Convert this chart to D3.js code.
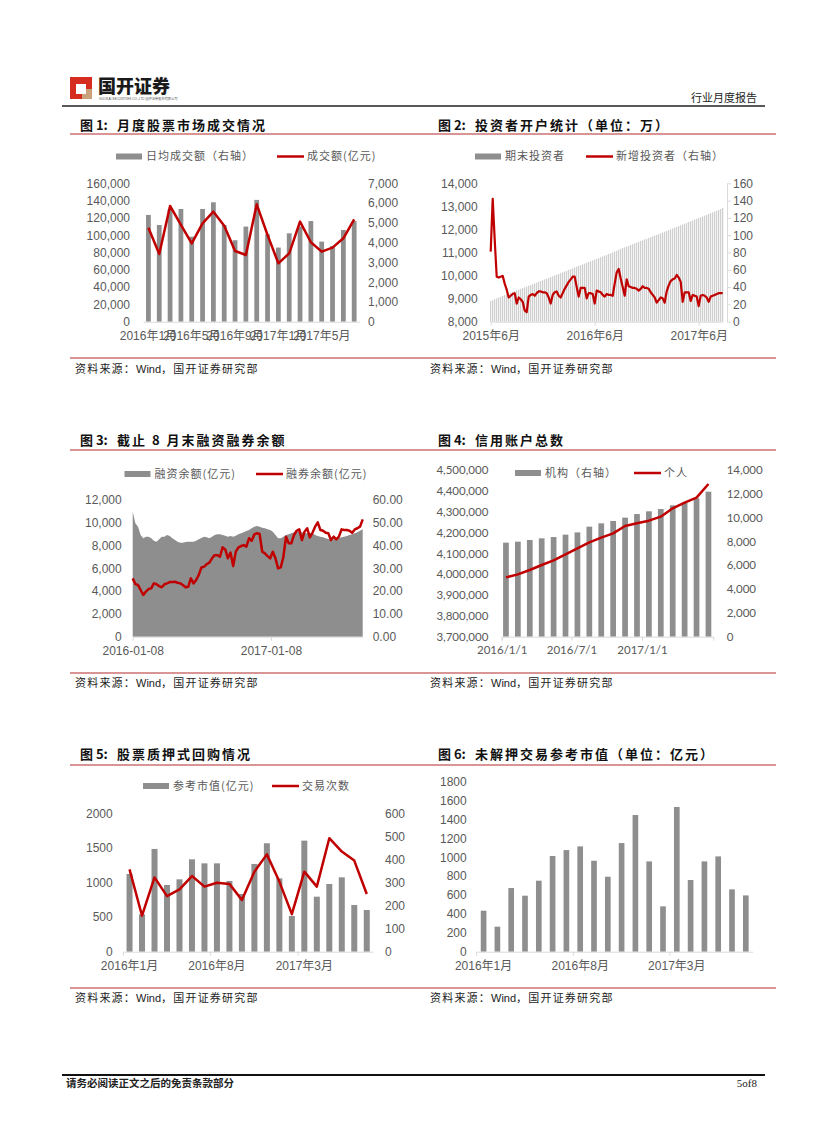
<!DOCTYPE html>
<html><head><meta charset="utf-8">
<script src="https://cdn.jsdelivr.net/npm/d3@7"></script>
<style>
body{margin:0;background:#fff;}
svg{display:block;}
</style></head><body>
<svg id="page" width="827" height="1122"></svg>
<script>
// ---------------- DATA ----------------
const months20 = ["2016年1月","2016年2月","2016年3月","2016年4月","2016年5月","2016年6月","2016年7月","2016年8月","2016年9月","2016年10月","2016年11月","2016年12月","2017年1月","2017年2月","2017年3月","2017年4月","2017年5月","2017年6月","2017年7月","2017年8月"];

// Chart 1
const c1DailyAvg = [5400,4890,5700,5700,4300,5700,6040,4890,4120,4810,6160,4420,3750,4470,4810,5090,4050,3830,4640,5090];
const c1Turnover = [108700,78300,133800,112000,90600,113700,127200,111000,81700,77100,135700,100200,67500,79000,115700,91800,81000,85600,96400,118400];
const c1XTicks = ["2016年1月","2016年5月","2016年9月","2017年1月","2017年5月"];
const c1LeftTicks = [0,20000,40000,60000,80000,100000,120000,140000,160000];
const c1RightTicks = [0,1000,2000,3000,4000,5000,6000,7000];

// Chart 2 (weekly)
const c2Start = "2015-06-05", c2End = "2017-08-26";
const c2Total = [8900,8935,8975,9010,9045,9080,9115,9150,9185,9220,
 9255,9290,9320,9355,9390,9425,9460,9490,9525,9560,
 9595,9630,9665,9700,9735,9765,9800,9835,9870,9900,
 9935,9970,10005,10040,10070,10105,10140,10175,10210,10245,
 10280,10315,10350,10385,10420,10450,10485,10520,10555,10590,
 10620,10655,10690,10725,10760,10795,10830,10865,10900,10935,
 10970,11005,11040,11080,11120,11160,11195,11225,11260,11290,
 11325,11360,11395,11430,11465,11495,11530,11565,11595,11630,
 11665,11700,11730,11760,11795,11830,11865,11900,11935,11970,
 12005,12040,12075,12110,12145,12180,12215,12250,12285,12320,
 12355,12390,12425,12460,12495,12530,12565,12600,12635,12670,
 12705,12740,12775,12810,12845,12885,12930];
const c2New = [81,142,95,52,51,52,53,44,37,28,
 30,32,33,21,28,26,23,13,11,29,
 31,32,30,33,35,35,34,34,33,28,
 21,31,34,35,30,28,33,38,42,46,
 49,52,52,40,29,39,39,39,27,33,
 33,32,21,36,35,34,31,29,32,31,
 31,30,44,57,61,50,40,30,49,41,
 40,39,39,38,36,38,41,39,39,38,
 34,31,28,22,25,28,27,22,35,42,
 47,49,50,54,51,46,23,34,34,34,
 24,31,30,29,18,30,31,30,28,23,
 29,30,31,32,33,33,33];
const c2XTicks = ["2015-06-05","2016-06-03","2017-06-02"];
const c2LeftTicks = [8000,9000,10000,11000,12000,13000,14000];
const c2RightTicks = [0,20,40,60,80,100,120,140,160];

// Chart 3 (weekly)
const c3Start = "2016-01-08", c3End = "2017-09-09";
const c3Margin = [10975,9950,9660,8930,8635,8780,8780,8635,8430,8340,
 8545,8780,8780,8930,8840,8635,8490,8340,8250,8250,
 8310,8340,8340,8340,8430,8545,8665,8780,8720,8635,
 8780,8930,8985,8985,8930,8870,8780,8840,8780,8870,
 8985,9075,9160,9280,9365,9510,9660,9720,9660,9570,
 9510,9425,9365,9220,8930,8635,8635,8780,8930,8985,
 9075,9160,9220,9250,9160,9075,9075,9135,9075,8930,
 8840,8780,8720,8635,8575,8545,8545,8575,8635,8720,
 8780,8840,8930,8985,9075,9160,9310,9425];
const c3Short = [25.6,23.1,22.7,20.5,18.3,19.8,20.9,21.2,23.4,23.0,
 22.2,21.7,23.0,23.4,24.0,24.0,24.1,23.7,23.4,22.7,
 21.7,21.9,25.6,23.4,24.9,27.1,30.4,30.7,31.9,32.5,
 34.4,35.8,35.8,35.1,39.2,38.3,34.4,36.9,31.0,37.3,
 39.2,39.8,40.2,39.5,43.2,42.1,44.9,45.4,45.1,37.3,
 36.6,35.4,34.4,37.3,34.4,30.0,30.4,35.1,43.9,41.0,
 41.0,44.6,46.5,47.1,42.4,46.1,47.6,43.6,45.6,48.3,
 50.2,46.8,46.5,45.6,45.4,42.4,43.9,42.7,43.9,47.1,
 46.8,46.8,46.5,45.6,47.1,47.6,48.3,51.5];
const c3XTicks = ["2016-01-08","2017-01-08"];
const c3LeftTicks = [0,2000,4000,6000,8000,10000,12000];
const c3RightTicks = [0,10,20,30,40,50,60];

// Chart 4 (monthly)
const c4Months = ["2016-01","2016-02","2016-03","2016-04","2016-05","2016-06","2016-07","2016-08","2016-09","2016-10","2016-11","2016-12","2017-01","2017-02","2017-03","2017-04","2017-05","2017-06"];
const c4Inst = [7900,7980,8120,8260,8370,8570,8760,9240,9520,9720,10000,10300,10530,10720,11030,11260,11620,12180];
const c4Indiv = [3984800,3999200,4020000,4044000,4066400,4095200,4124000,4152800,4175200,4196000,4231200,4244000,4256800,4276000,4316000,4343200,4367200,4432800];
const c4XTicks = ["2016-01-01","2016-07-01","2017-01-01"];
const c4LeftTicks = [3700000,3800000,3900000,4000000,4100000,4200000,4300000,4400000,4500000];
const c4RightTicks = [0,2000,4000,6000,8000,10000,12000,14000];

// Chart 5
const c5Value = [1123,540,1485,964,1046,1335,1277,1277,1022,834,1268,1567,1060,516,1605,795,978,1075,675,603];
const c5Count = [357,156,322,241,270,328,282,299,294,224,347,422,304,163,347,282,492,434,395,250];
const c5XTicks = ["2016年1月","2016年8月","2017年3月"];
const c5LeftTicks = [0,500,1000,1500,2000];
const c5RightTicks = [0,100,200,300,400,500,600];

// Chart 6
const c6Value = [434,265,674,593,752,1013,1076,1115,963,794,1150,1447,956,480,1532,759,956,1009,660,596];
const c6XTicks = ["2016年1月","2016年8月","2017年3月"];
const c6LeftTicks = [0,200,400,600,800,1000,1200,1400,1600,1800];

// ---------------- STYLE ----------------
const RED = "#c00000", GRAY = "#8e8e8e", LBL = "#595959", RULE = "#b32d2e", AXC = "#d9d9d9";
const FNUM = '"Liberation Sans", Arial, "Noto Sans CJK SC", sans-serif';
const FCJK = '"Noto Sans CJK SC", sans-serif';
const FCAL = 'Lato, "Noto Sans CJK SC", sans-serif';
const svg = d3.select("#page");
const parse = d3.timeParse("%Y-%m-%d");
const plain = d3.format("d");

function styleAxis(g, font, size, keepDomain) {
  if (!keepDomain) g.select(".domain").remove();
  else g.select(".domain").attr("stroke", AXC);
  g.selectAll(".tick line").attr("stroke", AXC);
  g.selectAll("text").attr("fill", LBL).style("font-family", font).style("font-size", size + "px");
}
function legendRect(x, y, label) {
  svg.append("rect").attr("x", x).attr("y", y - 3).attr("width", 26).attr("height", 6).attr("fill", GRAY);
  svg.append("text").attr("x", x + 30).attr("y", y).attr("dy", "0.35em").attr("fill", LBL)
    .style("font-family", FCJK).style("font-size", "11px").style("letter-spacing", "1px").text(label);
}
function legendLine(x, y, label) {
  svg.append("line").attr("x1", x).attr("x2", x + 27).attr("y1", y).attr("y2", y).attr("stroke", RED).attr("stroke-width", 2.5);
  svg.append("text").attr("x", x + 30).attr("y", y).attr("dy", "0.35em").attr("fill", LBL)
    .style("font-family", FCJK).style("font-size", "11px").style("letter-spacing", "1px").text(label);
}
function title(x, y, num, txt) {
  const t = svg.append("text").attr("y", y).style("font-family", FCJK).style("font-weight", 700)
    .style("font-size", "13px").attr("fill", "#111");
  t.append("tspan").attr("x", x).text(num);
  t.append("tspan").attr("x", x + 37).style("letter-spacing", "2px").text(txt);
}
function source(x, y) {
  const t = svg.append("text").attr("x", x).attr("y", y).attr("fill", "#222")
    .style("font-family", FCJK).style("font-size", "11px");
  t.append("tspan").style("letter-spacing", "1.2px").text("资料来源：");
  t.append("tspan").style("font-family", FNUM).text("Wind");
  t.append("tspan").style("letter-spacing", "1.2px").text("，国开证券研究部");
}
function rule(y) {
  svg.append("line").attr("x1", 70).attr("x2", 776).attr("y1", y).attr("y2", y).attr("stroke", RULE).attr("stroke-width", 1.2);
}

// ---------------- HEADER / FOOTER ----------------
svg.append("rect").attr("x", 70).attr("y", 77).attr("width", 22).attr("height", 22).attr("fill", "#d62b1f");
svg.append("rect").attr("x", 82).attr("y", 89).attr("width", 10).attr("height", 10).attr("fill", "#c9a27c");
svg.append("rect").attr("x", 76).attr("y", 84).attr("width", 10).attr("height", 10).attr("fill", "#fff");
svg.append("text").attr("x", 98).attr("y", 93).style("font-family", FCJK).style("font-weight", 900)
  .style("font-size", "18px").attr("fill", "#1a1a1a").text("国开证券");
svg.append("text").attr("x", 99).attr("y", 100).style("font-family", FNUM).style("font-size", "3.2px")
  .attr("fill", "#555").text("GUOKAI SECURITIES CO.,LTD 国开证券股份有限公司");
svg.append("text").attr("x", 757).attr("y", 102).attr("text-anchor", "end").style("font-family", FCJK)
  .style("font-size", "11px").attr("fill", "#222").text("行业月度报告");
svg.append("line").attr("x1", 62).attr("x2", 765).attr("y1", 106).attr("y2", 106).attr("stroke", "#222").attr("stroke-width", 1.5);

svg.append("line").attr("x1", 62).attr("x2", 765).attr("y1", 1075).attr("y2", 1075).attr("stroke", "#111").attr("stroke-width", 2);
svg.append("text").attr("x", 66).attr("y", 1087).style("font-family", FCJK).style("font-weight", 700)
  .style("font-size", "10.5px").attr("fill", "#222").text("请务必阅读正文之后的免责条款部分");
svg.append("text").attr("x", 757).attr("y", 1087).attr("text-anchor", "end").style("font-family", '"Liberation Serif", serif')
  .style("font-size", "11px").attr("fill", "#222").text("5of8");

// ---------------- ROW FRAMES ----------------
title(80, 130, "图 1:", "月度股票市场成交情况");
title(438, 130, "图 2:", "投资者开户统计（单位：万）");
rule(134); rule(358);
source(75, 373); source(430, 373);

title(80, 445, "图 3:", "截止 8 月末融资融券余额");
title(438, 445, "图 4:", "信用账户总数");
rule(450); rule(673);
source(75, 687); source(430, 687);

title(80, 759, "图 5:", "股票质押式回购情况");
title(438, 759, "图 6:", "未解押交易参考市值（单位：亿元）");
rule(765); rule(988);
source(75, 1002); source(430, 1002);

// ---------------- CHART 1 ----------------
(function () {
  const x = d3.scaleBand().domain(months20).range([143, 359.6]).paddingInner(0.56).paddingOuter(0.28);
  const yL = d3.scaleLinear().domain([0, 160000]).range([321.7, 183.3]);
  const yR = d3.scaleLinear().domain([0, 7000]).range([321.7, 183.3]);
  svg.append("g").selectAll("rect").data(c1DailyAvg).join("rect")
    .attr("x", (d, i) => x(months20[i])).attr("y", d => yR(d))
    .attr("width", x.bandwidth()).attr("height", d => yR(0) - yR(d)).attr("fill", GRAY);
  svg.append("g").attr("transform", "translate(0,321.7)")
    .call(d3.axisBottom(x).tickValues(c1XTicks).tickSize(0).tickSizeOuter(0).tickPadding(10))
    .call(g => styleAxis(g, FNUM, 12, true));
  svg.append("path").datum(c1Turnover)
    .attr("d", d3.line().x((d, i) => x(months20[i]) + x.bandwidth() / 2).y(d => yL(d)))
    .attr("fill", "none").attr("stroke", RED).attr("stroke-width", 2.5).attr("stroke-linejoin", "round");
  svg.append("g").attr("transform", "translate(143,0)")
    .call(d3.axisLeft(yL).tickValues(c1LeftTicks).tickSize(0).tickPadding(13).tickFormat(d3.format(",")))
    .call(g => styleAxis(g, FNUM, 12));
  svg.append("g").attr("transform", "translate(359.6,0)")
    .call(d3.axisRight(yR).tickValues(c1RightTicks).tickSize(0).tickPadding(8.5).tickFormat(d3.format(",")))
    .call(g => styleAxis(g, FNUM, 12));
  legendRect(116, 156.5, "日均成交额（右轴）");
  legendLine(277, 156.5, "成交额(亿元)");
})();

// ---------------- CHART 2 ----------------
(function () {
  const dates = d3.timeDay.range(parse(c2Start), parse(c2End), 7);
  const x = d3.scaleTime().domain([dates[0], dates[dates.length - 1]]).range([490.7, 722.7]);
  const yL = d3.scaleLinear().domain([8000, 14000]).range([321.7, 183.3]);
  const yR = d3.scaleLinear().domain([0, 160]).range([321.7, 183.3]);
  svg.append("g").selectAll("rect").data(c2Total).join("rect")
    .attr("x", (d, i) => x(dates[i]) - 0.5).attr("y", d => yL(d))
    .attr("width", 1).attr("height", d => yL(8000) - yL(d)).attr("fill", "#c4c4c4");
  svg.append("g").attr("transform", "translate(0,321.7)")
    .call(d3.axisBottom(x).tickValues(c2XTicks.map(parse)).tickSize(4).tickSizeOuter(0).tickPadding(6)
      .tickFormat(d3.timeFormat("%Y年%-m月")))
    .call(g => styleAxis(g, FNUM, 12, true));
  svg.append("path").datum(c2New)
    .attr("d", d3.line().x((d, i) => x(dates[i])).y(d => yR(d)))
    .attr("fill", "none").attr("stroke", RED).attr("stroke-width", 2.2).attr("stroke-linejoin", "round");
  svg.append("g").attr("transform", "translate(490.7,0)")
    .call(d3.axisLeft(yL).tickValues(c2LeftTicks).tickSize(0).tickPadding(13).tickFormat(d3.format(",")))
    .call(g => styleAxis(g, FNUM, 12));
  svg.append("g").attr("transform", "translate(727,0)")
    .call(d3.axisRight(yR).tickValues(c2RightTicks).tickSize(4).tickSizeOuter(0).tickPadding(2))
    .call(g => styleAxis(g, FNUM, 12, true));
  legendRect(475, 156.5, "期末投资者");
  legendLine(586, 156.5, "新增投资者（右轴）");
})();

// ---------------- CHART 3 ----------------
(function () {
  const dates = d3.timeDay.range(parse(c3Start), parse(c3End), 7);
  const x = d3.scaleTime().domain([dates[0], dates[dates.length - 1]]).range([132.7, 362.7]);
  const yL = d3.scaleLinear().domain([0, 12000]).range([636.7, 500]);
  const yR = d3.scaleLinear().domain([0, 60]).range([636.7, 500]);
  svg.append("path").datum(c3Margin)
    .attr("d", d3.area().x((d, i) => x(dates[i])).y0(yL(0)).y1(d => yL(d)))
    .attr("fill", GRAY);
  svg.append("g").attr("transform", "translate(0,636.7)")
    .call(d3.axisBottom(x).tickValues(c3XTicks.map(parse)).tickSize(4).tickSizeOuter(0).tickPadding(6)
      .tickFormat(d3.timeFormat("%Y-%m-%d")))
    .call(g => styleAxis(g, FNUM, 12, true));
  svg.append("path").datum(c3Short)
    .attr("d", d3.line().x((d, i) => x(dates[i])).y(d => yR(d)))
    .attr("fill", "none").attr("stroke", RED).attr("stroke-width", 2.5).attr("stroke-linejoin", "round");
  svg.append("g").attr("transform", "translate(132.7,0)")
    .call(d3.axisLeft(yL).tickValues(c3LeftTicks).tickSize(0).tickPadding(11).tickFormat(d3.format(",")))
    .call(g => styleAxis(g, FNUM, 12));
  svg.append("g").attr("transform", "translate(362.7,0)")
    .call(d3.axisRight(yR).tickValues(c3RightTicks).tickSize(0).tickPadding(10).tickFormat(d3.format(".2f")))
    .call(g => styleAxis(g, FNUM, 12));
  legendRect(124.5, 474, "融资余额(亿元)");
  legendLine(256, 474, "融券余额(亿元)");
})();

// ---------------- CHART 4 ----------------
(function () {
  const x = d3.scaleBand().domain(c4Months).range([500, 714.4]).paddingInner(0.52).paddingOuter(0.26);
  const xt = d3.scaleTime().domain([parse("2016-01-01"), parse("2017-07-06")]).range([501.7, 713.3]);
  const yL = d3.scaleLinear().domain([3700000, 4500000]).range([636.7, 470]);
  const yR = d3.scaleLinear().domain([0, 14000]).range([636.7, 470]);
  svg.append("g").selectAll("rect").data(c4Inst).join("rect")
    .attr("x", (d, i) => x(c4Months[i])).attr("y", d => yR(d))
    .attr("width", x.bandwidth()).attr("height", d => yR(0) - yR(d)).attr("fill", GRAY);
  svg.append("g").attr("transform", "translate(0,636.7)")
    .call(d3.axisBottom(xt).tickValues(c4XTicks.map(parse)).tickSize(4).tickSizeOuter(4).tickPadding(5)
      .tickFormat(d3.timeFormat("%Y/%-m/%-d")))
    .call(g => styleAxis(g, FCAL, 11.5, true));
  svg.append("path").datum(c4Indiv)
    .attr("d", d3.line().x((d, i) => x(c4Months[i]) + x.bandwidth() / 2).y(d => yL(d)))
    .attr("fill", "none").attr("stroke", RED).attr("stroke-width", 2.5).attr("stroke-linejoin", "round");
  svg.append("g").attr("transform", "translate(500,0)")
    .call(d3.axisLeft(yL).tickValues(c4LeftTicks).tickSize(0).tickPadding(11.7).tickFormat(d3.format(",")))
    .call(g => styleAxis(g, FCAL, 11.5));
  svg.append("g").attr("transform", "translate(714.4,0)")
    .call(d3.axisRight(yR).tickValues(c4RightTicks).tickSize(0).tickPadding(12.3).tickFormat(d3.format(",")))
    .call(g => styleAxis(g, FCAL, 11.5));
  legendRect(515, 473, "机构（右轴）");
  legendLine(634, 473, "个人");
})();

// ---------------- CHART 5 ----------------
function boundaryTicks(x, ticks, y) {
  const off = (x.step() - x.bandwidth()) / 2;
  svg.append("g").selectAll("line").data(ticks).join("line")
    .attr("x1", d => x(d) - off).attr("x2", d => x(d) - off)
    .attr("y1", y).attr("y2", y + 4).attr("stroke", AXC);
}
(function () {
  const x = d3.scaleBand().domain(months20).range([123.3, 373]).paddingInner(0.52).paddingOuter(0.26);
  const yL = d3.scaleLinear().domain([0, 2000]).range([951.7, 813.3]);
  const yR = d3.scaleLinear().domain([0, 600]).range([951.7, 813.3]);
  svg.append("g").selectAll("rect").data(c5Value).join("rect")
    .attr("x", (d, i) => x(months20[i])).attr("y", d => yL(d))
    .attr("width", x.bandwidth()).attr("height", d => yL(0) - yL(d)).attr("fill", GRAY);
  svg.append("g").attr("transform", "translate(0,951.7)")
    .call(d3.axisBottom(x).tickValues(c5XTicks).tickSize(0).tickSizeOuter(0).tickPadding(10))
    .call(g => styleAxis(g, FNUM, 12, true));
  boundaryTicks(x, c5XTicks, 951.7);
  svg.append("path").datum(c5Count)
    .attr("d", d3.line().x((d, i) => x(months20[i]) + x.bandwidth() / 2).y(d => yR(d)))
    .attr("fill", "none").attr("stroke", RED).attr("stroke-width", 2.5).attr("stroke-linejoin", "round");
  svg.append("g").attr("transform", "translate(123.3,0)")
    .call(d3.axisLeft(yL).tickValues(c5LeftTicks).tickSize(0).tickPadding(10.6).tickFormat(plain))
    .call(g => styleAxis(g, FNUM, 12));
  svg.append("g").attr("transform", "translate(373,0)")
    .call(d3.axisRight(yR).tickValues(c5RightTicks).tickSize(0).tickPadding(12).tickFormat(plain))
    .call(g => styleAxis(g, FNUM, 12));
  legendRect(143, 786, "参考市值(亿元)");
  legendLine(272, 786, "交易次数");
})();

// ---------------- CHART 6 ----------------
(function () {
  const x = d3.scaleBand().domain(months20).range([476.7, 752.7]).paddingInner(0.59).paddingOuter(0.295);
  const y = d3.scaleLinear().domain([0, 1800]).range([951.7, 781.7]);
  svg.append("g").selectAll("rect").data(c6Value).join("rect")
    .attr("x", (d, i) => x(months20[i])).attr("y", d => y(d))
    .attr("width", x.bandwidth()).attr("height", d => y(0) - y(d)).attr("fill", GRAY);
  svg.append("g").attr("transform", "translate(0,951.7)")
    .call(d3.axisBottom(x).tickValues(c6XTicks).tickSize(0).tickSizeOuter(0).tickPadding(10))
    .call(g => styleAxis(g, FNUM, 12, true));
  boundaryTicks(x, c6XTicks, 951.7);
  svg.append("g").attr("transform", "translate(476.7,0)")
    .call(d3.axisLeft(y).tickValues(c6LeftTicks).tickSize(0).tickPadding(10).tickFormat(plain))
    .call(g => styleAxis(g, FNUM, 12));
})();
</script>
</body></html>
